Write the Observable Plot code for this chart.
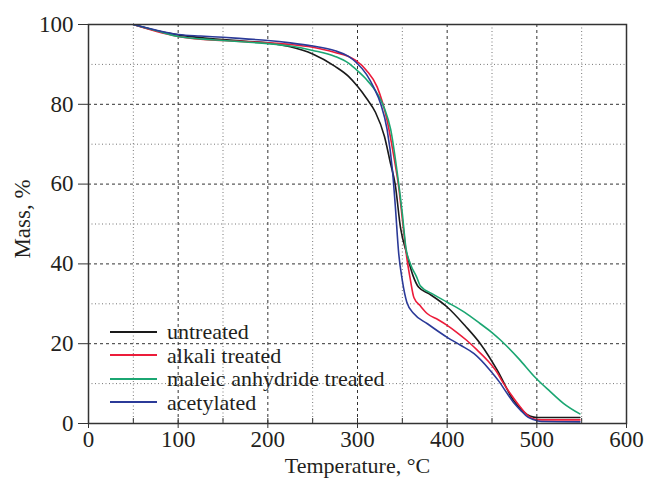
<!DOCTYPE html>
<html>
<head>
<meta charset="utf-8">
<script src="https://cdn.jsdelivr.net/npm/d3@7"></script>
<script src="https://cdn.jsdelivr.net/npm/@observablehq/plot@0.6"></script>
<style>
  html, body { margin: 0; padding: 0; background: #fff; }
  #wrap { position: relative; width: 650px; height: 479px; font-family: "Liberation Serif", "Times New Roman", serif; color: #231f20; }
  #legend { position: absolute; left: 110px; top: 320px; font-size: 22px; line-height: 23.5px; }
  #legend .row { display: flex; align-items: center; height: 23.5px; white-space: nowrap; }
  #legend .sw { width: 47px; height: 0; border-top: 2px solid; margin-right: 10px; }
</style>
</head>
<body>
<div id="wrap"><div id="chart"></div><div id="legend"></div></div>
<script>
// Series names and colours
const seriesNames = ["untreated", "alkali treated", "maleic anhydride treated", "acetylated"];
const seriesColors = ["#1a1a1a", "#ec1c3a", "#1ba672", "#2b3a98"];

// untreated
const untreatedT = [50,75,100,125,150,175,200,225,250,275,290,300,310,320,330,337,342,348,355,362,368,380,400,420,437,456,474,485,493,500,520,548];
const untreatedM = [100,98.5,97.4,96.7,96.2,95.8,95.4,94.4,92.6,89.5,87,84.5,81.5,78,72,65,60,49,42.5,37,34.2,32.5,29.2,24.5,20,13.3,5.8,3,1.8,1.5,1.5,1.5];

// alkali treated
const alkaliT = [50,75,100,125,150,175,200,225,250,275,290,298,310,322,333,340,346,351,355,359,363,370,378,390,400,411,422,433,445,455,463,472,482,490,496,505,548];
const alkaliM = [100,98.3,97,96.3,96,95.7,95.4,95,94.3,93,92,91,88.5,84.3,76,67.6,59.2,49.2,41.5,36,31.5,29.5,27.5,26,24.6,22.8,20.8,18.5,15.8,13,10,7,4,2,1.2,0.9,0.9];

// maleic anhydride treated
const maleicT = [50,75,100,125,150,175,200,225,250,275,290,300,310,322,330,337,344,350,354,359,366,370,385,400,420,437,450,460,480,498,515,530,548];
const maleicM = [100,98.5,97,96.4,96,95.6,95.2,94.6,93.5,92,90.3,88.4,86.2,82.7,79,73.7,63.4,52.6,44,40,36.7,34.5,32.3,30.4,27.8,25,22.8,20.8,16.2,11.6,8,5,2.4];

// acetylated
const acetylT = [50,75,100,125,150,175,200,225,250,275,290,298,310,318,326,333,339,342,346,350,355,363,378,400,415,430,448,458,467,475,482,490,496,505,548];
const acetylM = [100,98.6,97.5,97.1,96.8,96.4,96,95.4,94.6,93.4,92,90.6,87.5,84.3,80,73.7,63.4,55,42.5,35.8,30.4,27.5,25,21.6,19.6,17.5,13.3,10.5,7.5,5,3.3,1.6,1,0.5,0.4];

// Ticks
const xMajor = [0,100,200,300,400,500,600];
const xMinor = [50,150,250,350,450,550];
const yMajor = [0,20,40,60,80,100];
const yMinor = [10,30,50,70,90];

const seriesT = [untreatedT, alkaliT, maleicT, acetylT];
const seriesM = [untreatedM, alkaliM, maleicM, acetylM];
const data = seriesNames.flatMap((name, i) => seriesT[i].map((t, j) => ({series: name, T: t, M: seriesM[i][j]})));

const ink = "#231f20";
const fs = 23;
const chart = Plot.plot({
  width: 650,
  height: 479,
  marginLeft: 88,
  marginRight: 24,
  marginTop: 24,
  marginBottom: 56,
  style: {fontFamily: "'Liberation Serif', 'Times New Roman', serif", fontSize: "23px", color: ink, background: "#fff"},
  x: {domain: [0, 600]},
  y: {domain: [0, 100]},
  color: {domain: seriesNames, range: seriesColors},
  marks: [
    Plot.ruleX(xMinor, {stroke: "#777", strokeDasharray: "1,2.5", strokeWidth: 1}),
    Plot.ruleY(yMinor, {stroke: "#777", strokeDasharray: "1,2.5", strokeWidth: 1}),
    Plot.ruleX(xMajor.slice(1, -1), {stroke: "#333", strokeDasharray: "3,3", strokeWidth: 1}),
    Plot.ruleY(yMajor.slice(1, -1), {stroke: "#333", strokeDasharray: "3,3", strokeWidth: 1}),
    Plot.line(data, {x: "T", y: "M", z: "series", stroke: "series", strokeWidth: 1.6, curve: "monotone-x"}),
    Plot.frame({stroke: "#333", strokeWidth: 1.5}),
    Plot.axisX(xMajor, {anchor: "bottom", tickSize: 5, tickPadding: 2, label: null, stroke: "#333", fill: ink, fontSize: fs}),
    Plot.axisX(xMajor, {anchor: "bottom", tickSize: -5, text: null, label: null, stroke: "#333"}),
    Plot.axisX(xMinor, {anchor: "bottom", tickSize: -5, text: null, label: null, stroke: "#333"}),
    Plot.axisY(yMajor, {anchor: "left", tickSize: 10, tickPadding: 5, label: null, stroke: "#333", fill: ink, fontSize: fs}),
    Plot.text(["Temperature, °C"], {frameAnchor: "bottom", textAnchor: "middle", lineAnchor: "middle", dy: 42, fill: ink, fontSize: 22}),
    Plot.text(["Mass, %"], {frameAnchor: "left", textAnchor: "middle", lineAnchor: "middle", rotate: -90, dx: -66, dy: -5, fill: ink, fontSize: fs})
  ]
});
document.getElementById("chart").appendChild(chart);

const legend = document.getElementById("legend");
seriesNames.forEach((name, i) => {
  const row = document.createElement("div");
  row.className = "row";
  const sw = document.createElement("span");
  sw.className = "sw";
  sw.style.borderTopColor = seriesColors[i];
  const label = document.createElement("span");
  label.textContent = name;
  row.appendChild(sw);
  row.appendChild(label);
  legend.appendChild(row);
});
</script>
</body>
</html>
